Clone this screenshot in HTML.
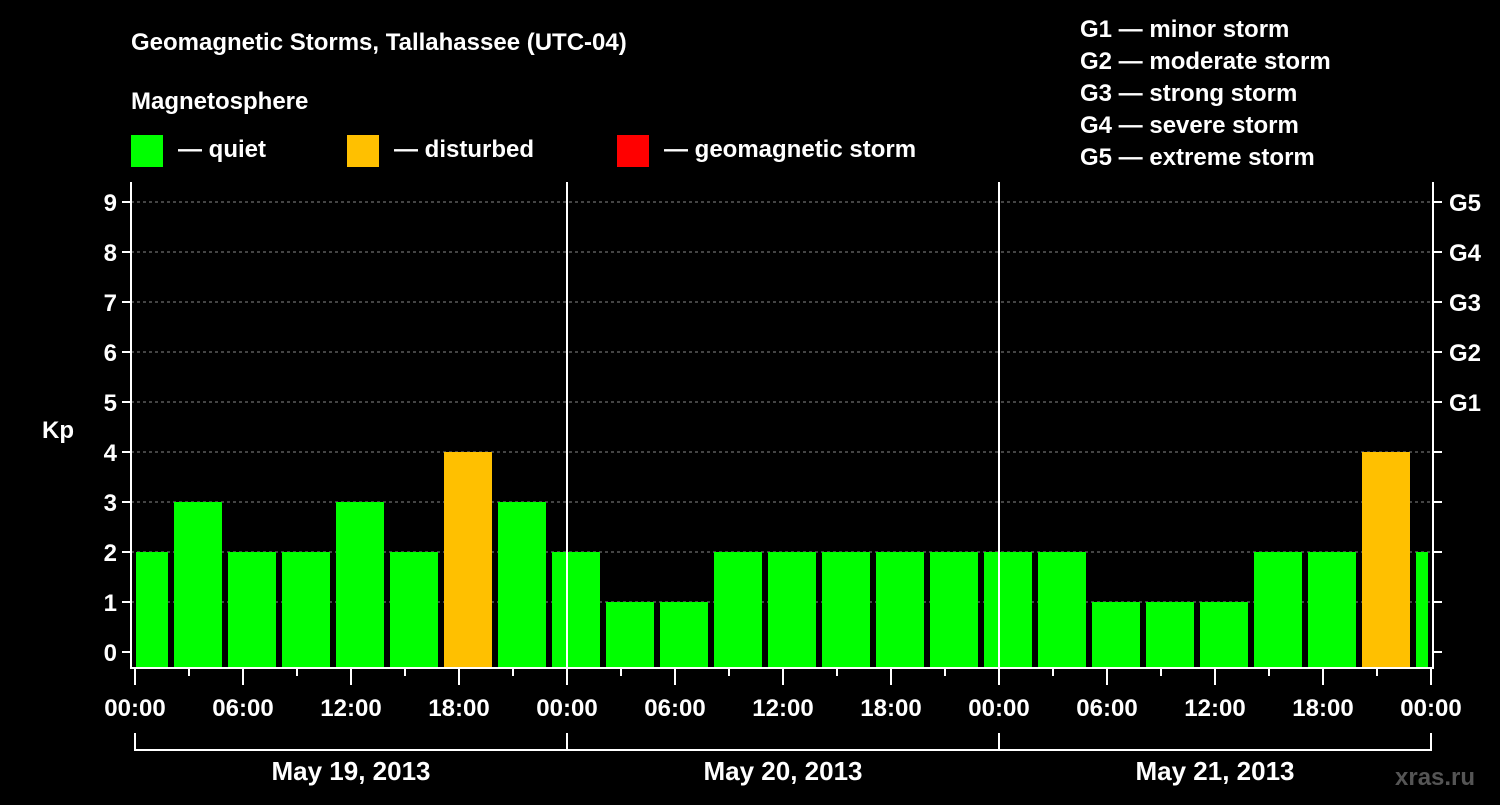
<!DOCTYPE html>
<html><head><meta charset="utf-8"><style>
body{margin:0;background:#000;width:1500px;height:800px;overflow:hidden}
svg text{font-family:"Liberation Sans",sans-serif;font-weight:bold;fill:#fff}
</style></head><body>
<svg id="c" width="1500" height="800" xmlns="http://www.w3.org/2000/svg">
<text x="131" y="50" font-size="24">Geomagnetic Storms, Tallahassee (UTC-04)</text>
<text x="131" y="109" font-size="24">Magnetosphere</text>
<g><rect x="131" y="135" width="32" height="32" fill="#00ff00"/><text x="178" y="157" font-size="24">— quiet</text></g>
<g><rect x="347" y="135" width="32" height="32" fill="#ffc000"/><text x="394" y="157" font-size="24">— disturbed</text></g>
<g><rect x="617" y="135" width="32" height="32" fill="#ff0000"/><text x="664" y="157" font-size="24">— geomagnetic storm</text></g>
<g font-size="24">
<text x="1080" y="37">G1 — minor storm</text><text x="1080" y="69">G2 — moderate storm</text><text x="1080" y="101">G3 — strong storm</text><text x="1080" y="133">G4 — severe storm</text><text x="1080" y="165">G5 — extreme storm</text></g>
<text x="42" y="438" font-size="24">Kp</text>
<text x="1395" y="785" font-size="24" fill="#444" style="fill:#555">xras.ru</text>
<g id="grid"></g><g id="bars"></g><g id="axes"></g>
</svg>
<script>
const kpValues=[2,3,2,2,3,2,4,3,2,1,1,2,2,2,2,2,2,2,1,1,1,2,2,4,2];
const dayLabels=["May 19, 2013","May 20, 2013","May 21, 2013"];
const yTicks=[0,1,2,3,4,5,6,7,8,9];
const gLabels=["G1","G2","G3","G4","G5"];
const hourLabels=["00:00","06:00","12:00","18:00"];
const NS="http://www.w3.org/2000/svg";
const X0=135,PXH=18,L=131,R=1433,T=182,B=668;
const xs=h=>X0+h*PXH, ys=k=>652-k*50;
function mk(t,a,p){const e=document.createElementNS(NS,t);for(const k in a)e.setAttribute(k,a[k]);p.appendChild(e);return e;}
const grid=document.getElementById('grid'),bars=document.getElementById('bars'),axes=document.getElementById('axes');
yTicks.forEach(k=>{if(k>0){const l=mk('line',{x1:L,x2:R,y1:ys(k),y2:ys(k),stroke:'#888','stroke-dasharray':'3,3','stroke-width':1},grid);

}});
kpValues.forEach((v,i)=>{let x1=xs(i*3-1)+3,x2=xs(i*3+2)-3;x1=Math.max(x1,X0+1);x2=Math.min(x2,xs(72)-3);
const r=mk('rect',{x:x1,y:ys(v),width:x2-x1,height:B-ys(v),fill:v>=5?'#ff0000':(v>=4?'#ffc000':'#00ff00')},bars);

});
[1,2].forEach(d=>{mk('line',{x1:xs(d*24),x2:xs(d*24),y1:T,y2:B,stroke:'#fff','stroke-width':2},axes);});
mk('path',{d:`M${L} ${T}V${B}H${R}V${T}`,stroke:'#fff','stroke-width':2,fill:'none'},axes);
yTicks.forEach(k=>{mk('line',{x1:L-9,x2:L,y1:ys(k),y2:ys(k),stroke:'#fff','stroke-width':2},axes);
mk('line',{x1:R,x2:R+9,y1:ys(k),y2:ys(k),stroke:'#fff','stroke-width':2},axes);
const t=mk('text',{x:L-14,y:ys(k)+9,'font-size':24,'text-anchor':'end'},axes);t.textContent=k;

});
gLabels.forEach((g,i)=>{const t=mk('text',{x:1449,y:ys(5+i)+9,'font-size':24},axes);t.textContent=g;

});
for(let h=0;h<=72;h+=3){const maj=h%6==0;mk('line',{x1:xs(h),x2:xs(h),y1:B,y2:B+(maj?17:8),stroke:'#fff','stroke-width':2},axes);
if(maj&&h%6==0){const t=mk('text',{x:xs(h),y:716,'font-size':24,'text-anchor':'middle'},axes);t.textContent=hourLabels[(h/6)%4];

}}
mk('path',{d:`M${xs(0)} 733V750H${xs(72)}V733`,stroke:'#fff','stroke-width':2,fill:'none'},axes);
[1,2].forEach(d=>mk('line',{x1:xs(d*24),x2:xs(d*24),y1:733,y2:750,stroke:'#fff','stroke-width':2},axes));
dayLabels.forEach((d,i)=>{const t=mk('text',{x:xs(i*24+12),y:780,'font-size':26,'text-anchor':'middle'},axes);t.textContent=d;

});
</script>
</body></html>
